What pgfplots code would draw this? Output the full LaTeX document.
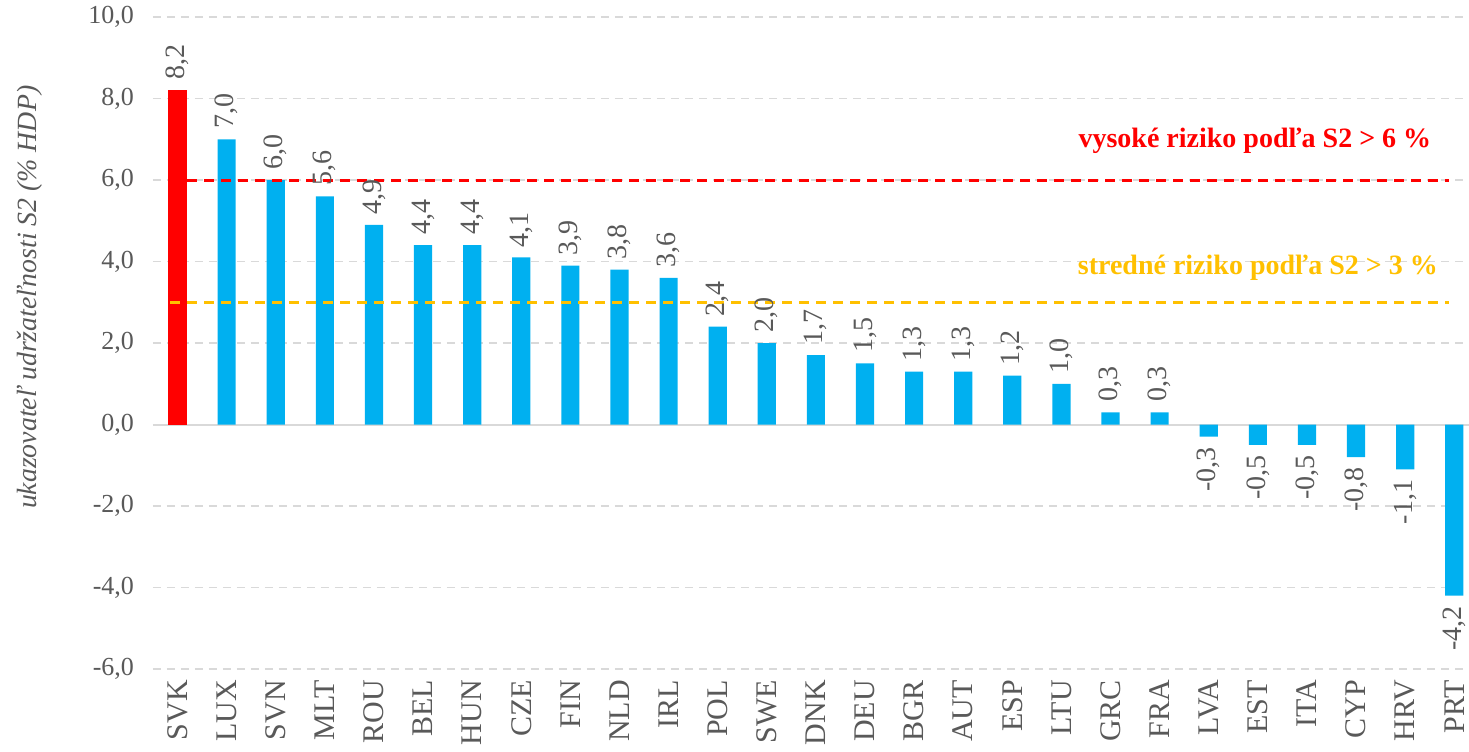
\documentclass[border=0pt]{standalone}
\usepackage{fontspec}
\setmainfont{Liberation Serif}
\usepackage{pgfplots}
\pgfplotsset{compat=1.18}
\definecolor{barblue}{HTML}{00B0F0}
\definecolor{barred}{HTML}{FF0000}
\definecolor{gold}{HTML}{FFC000}
\definecolor{txtgray}{HTML}{595959}
\definecolor{gridgray}{HTML}{D9D9D9}
\begin{document}
\begin{tikzpicture}
\begin{axis}[
  scale only axis,
  width=658pt, height=326pt,
  xmin=-0.5, xmax=26.3,
  ymin=-6, ymax=10,
  ytick={-6,-4,...,10},
  xtick={0,...,26},
  xticklabels={SVK,LUX,SVN,MLT,ROU,BEL,HUN,CZE,FIN,NLD,IRL,POL,SWE,DNK,DEU,BGR,AUT,ESP,LTU,GRC,FRA,LVA,EST,ITA,CYP,HRV,PRT},
  x tick label style={rotate=90, anchor=east, font=\fontsize{15}{17}\selectfont, text=txtgray},
  y tick label style={font=\fontsize{13}{15}\selectfont, text=txtgray},
  /pgf/number format/.cd, use comma, fixed, fixed zerofill, precision=1, assume math mode=true,
  /pgfplots/.cd,
  axis line style={draw=none},
  major tick length=0pt,
  ymajorgrids,
  grid style={gridgray, dash pattern=on 4pt off 3pt, line width=0.8pt},
  xticklabel shift=2pt,
  yticklabel shift=6pt,
  ybar, bar width=0.37, bar shift=0pt,
  clip=false,
]
\addplot[ybar=false, sharp plot, gridgray, line width=1pt, forget plot] coordinates {(-0.5,0) (26.3,0)};
\addplot[draw=none, fill=barred, nodes near coords, every node near coord/.style={rotate=90, anchor=west, font=\fontsize{14}{16}\selectfont, text=txtgray, inner sep=5pt}] coordinates {(0,8.2)};
\addplot[draw=none, fill=barblue, nodes near coords, every node near coord/.style={rotate=90, anchor=west, font=\fontsize{14}{16}\selectfont, text=txtgray, inner sep=5pt}] coordinates {
(1,7.0) (2,6.0) (3,5.6) (4,4.9) (5,4.4) (6,4.4) (7,4.1) (8,3.9) (9,3.8) (10,3.6) (11,2.4) (12,2.0) (13,1.7) (14,1.5) (15,1.3) (16,1.3) (17,1.2) (18,1.0) (19,0.3) (20,0.3)};
\addplot[draw=none, fill=barblue, nodes near coords, every node near coord/.style={rotate=90, anchor=east, font=\fontsize{14}{16}\selectfont, text=txtgray, inner sep=5pt}] coordinates {
(21,-0.3) (22,-0.5) (23,-0.5) (24,-0.8) (25,-1.1) (26,-4.2)};
\addplot[ybar=false, sharp plot, barred, line width=1.5pt, dash pattern=on 5pt off 3.5pt] coordinates {(-0.15,6) (25.9,6)};
\addplot[ybar=false, sharp plot, gold, line width=1.5pt, dash pattern=on 5pt off 3.5pt] coordinates {(-0.15,3) (25.9,3)};
\node[text=barred, font=\bfseries\fontsize{14}{16}\selectfont] at (axis cs:21.94,6.96) {vysoké riziko podľa S2 > 6 \%};
\node[text=gold, font=\bfseries\fontsize{14}{16}\selectfont] at (axis cs:22.0,3.84) {stredné riziko podľa S2 > 3 \%};
\node[rotate=90, text=txtgray, font=\itshape\fontsize{13.9}{16}\selectfont] at ([xshift=-61.5pt]rel axis cs:0,0.57) {ukazovateľ udržateľnosti S2 (\% HDP)};
\end{axis}
\pgfresetboundingbox
\path (-76.5pt,-41pt) rectangle (658pt,334.5pt);
\end{tikzpicture}
\end{document}
